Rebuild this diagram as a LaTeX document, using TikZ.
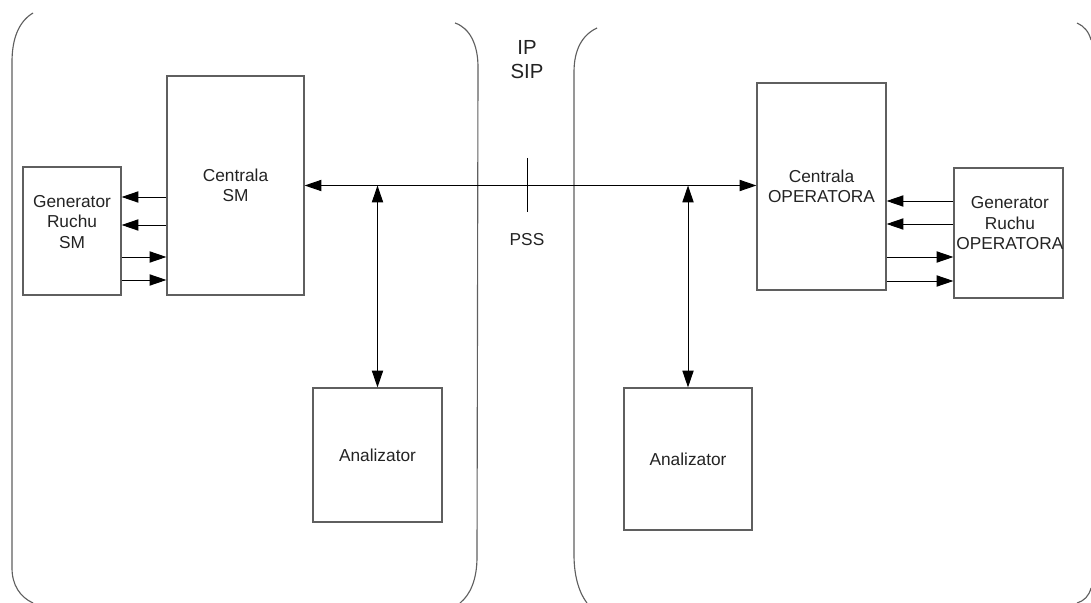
\documentclass[tikz,border=0pt]{standalone}
\usepackage{fontspec}
\setmainfont{Liberation Sans}
\usetikzlibrary{arrows.meta}
\definecolor{boxgray}{RGB}{95,95,95}
\definecolor{txtgray}{RGB}{35,35,35}

\begin{document}
\begin{tikzpicture}[x=0.025cm, y=-0.025cm,
    box/.style={draw=boxgray, line width=0.8pt, rectangle, align=center, text=txtgray,
        font=\fontsize{12.3}{14.5}\selectfont},
    lbl/.style={align=center, text=txtgray, font=\fontsize{12.3}{14.5}\selectfont},
    bound/.style={draw=boxgray, line width=0.8pt},
    arr/.style={line width=0.7pt, -{Triangle[length=12pt, width=8pt]}},
    darr/.style={line width=0.7pt, {Triangle[length=12pt, width=8pt]}-{Triangle[length=12pt, width=8pt]}}]
    \useasboundingbox (0,0) rectangle (1091,603);

    % 領域の境界
    \draw[bound] (33,13) .. controls (18,22) and (12,40) .. (12,62) -- (12,568) .. controls (12,585) and (20,597) .. (33,603);
    \draw[bound] (455,23) .. controls (470,28) and (478,45) .. (478,67) -- (477,557) .. controls (477,580) and (470,595) .. (460,603);
    \draw[bound] (597,28) .. controls (582,35) and (574,50) .. (574,72) -- (574,555) .. controls (574,578) and (580,594) .. (587,603);
    \draw[bound] (1077,23) .. controls (1084,26) and (1089,32) .. (1091,40);
    \draw[bound] (1091,588) .. controls (1089,596) and (1084,601) .. (1077,603);

    % 箱を描画
    \node[box, minimum width=2.45cm, minimum height=3.2cm,
        label={[lbl, yshift=6.5pt]center:Generator\\Ruchu\\SM}] (gsm) at (72,231) {};
    \node[box, minimum width=3.425cm, minimum height=5.475cm] (csm) at (235.5,185.5) {Centrala\\SM};
    \node[box, minimum width=3.225cm, minimum height=5.175cm] (cop) at (821.5,186.5) {Centrala\\OPERATORA};
    \node[box, minimum width=2.725cm, minimum height=3.25cm,
        label={[lbl, yshift=7pt, xshift=1pt]center:Generator\\Ruchu\\OPERATORA}] (gop) at (1008.5,233) {};
    \node[box, minimum width=3.225cm, minimum height=3.35cm] (anl) at (377.5,455) {Analizator};
    \node[box, minimum width=3.2cm, minimum height=3.55cm] (anr) at (688,459) {Analizator};

    % 文字
    \node[lbl, font=\fontsize{14.5}{17}\selectfont] (ip) at (527,60) {IP\\SIP};
    \node[lbl] (pss) at (527,240) {PSS};

    % 矢印を描画
    \draw[darr] (csm.east) -- (cop.west |- csm.east);
    \draw[line width=0.7pt] (527,158) -- (527,212);
    \draw[darr] (anl.north |- csm.east) -- (anl.north);
    \draw[darr] (anr.north |- csm.east) -- (anr.north);
    \foreach \y in {197,225}
        \draw[arr] (csm.west |- 0,\y) -- (gsm.east |- 0,\y);
    \foreach \y in {257,280}
        \draw[arr] (gsm.east |- 0,\y) -- (csm.west |- 0,\y);
    \foreach \y in {201,224}
        \draw[arr] (gop.west |- 0,\y) -- (cop.east |- 0,\y);
    \foreach \y in {257,281}
        \draw[arr] (cop.east |- 0,\y) -- (gop.west |- 0,\y);
\end{tikzpicture}
\end{document}
